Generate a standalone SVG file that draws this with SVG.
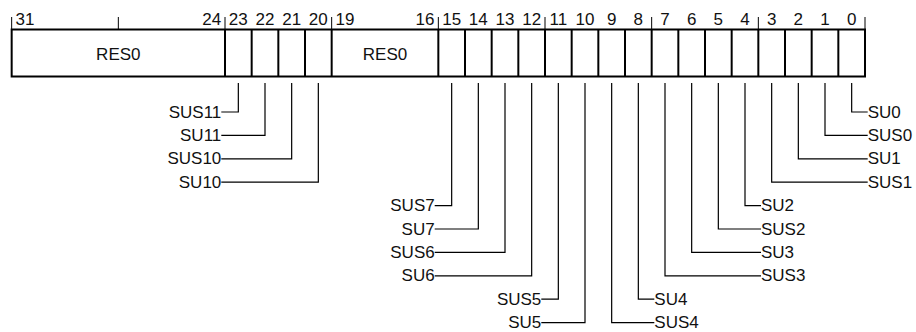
<svg xmlns="http://www.w3.org/2000/svg" width="916" height="332" viewBox="0 0 916 332">
<style>
text{font-family:"Liberation Sans",Arial,sans-serif;font-size:17px;fill:#111}
.n{text-anchor:middle}
.l{text-anchor:end}
.r{text-anchor:start}
.box{fill:#fff;stroke:#000;stroke-width:2}
.div{stroke:#000;stroke-width:2}
.tick{stroke:#000;stroke-width:1}
.c{fill:none;stroke:#000;stroke-width:1.2}
</style>
<rect width="916" height="332" fill="#fff"/>
<g id="register">
<rect class="box" x="11.67" y="29.5" width="853.33" height="47"/>
<g id="field-res0-hi"><text class="n" x="118.33" y="59.5">RES0</text></g>
<g id="field-res0-lo"><text class="n" x="385" y="59.5">RES0</text></g>
<g id="dividers">
<line class="div" x1="225" y1="29.5" x2="225" y2="76.5"/>
<line class="div" x1="251.67" y1="29.5" x2="251.67" y2="76.5"/>
<line class="div" x1="278.33" y1="29.5" x2="278.33" y2="76.5"/>
<line class="div" x1="305" y1="29.5" x2="305" y2="76.5"/>
<line class="div" x1="331.67" y1="29.5" x2="331.67" y2="76.5"/>
<line class="div" x1="438.33" y1="29.5" x2="438.33" y2="76.5"/>
<line class="div" x1="465" y1="29.5" x2="465" y2="76.5"/>
<line class="div" x1="491.67" y1="29.5" x2="491.67" y2="76.5"/>
<line class="div" x1="518.33" y1="29.5" x2="518.33" y2="76.5"/>
<line class="div" x1="545" y1="29.5" x2="545" y2="76.5"/>
<line class="div" x1="571.67" y1="29.5" x2="571.67" y2="76.5"/>
<line class="div" x1="598.33" y1="29.5" x2="598.33" y2="76.5"/>
<line class="div" x1="625" y1="29.5" x2="625" y2="76.5"/>
<line class="div" x1="651.67" y1="29.5" x2="651.67" y2="76.5"/>
<line class="div" x1="678.33" y1="29.5" x2="678.33" y2="76.5"/>
<line class="div" x1="705" y1="29.5" x2="705" y2="76.5"/>
<line class="div" x1="731.67" y1="29.5" x2="731.67" y2="76.5"/>
<line class="div" x1="758.33" y1="29.5" x2="758.33" y2="76.5"/>
<line class="div" x1="785" y1="29.5" x2="785" y2="76.5"/>
<line class="div" x1="811.67" y1="29.5" x2="811.67" y2="76.5"/>
<line class="div" x1="838.33" y1="29.5" x2="838.33" y2="76.5"/>
</g>
<g id="ticks">
<line class="tick" x1="11.67" y1="17" x2="11.67" y2="29.5"/>
<line class="tick" x1="118.33" y1="17" x2="118.33" y2="29.5"/>
<line class="tick" x1="225" y1="17" x2="225" y2="29.5"/>
<line class="tick" x1="331.67" y1="17" x2="331.67" y2="29.5"/>
<line class="tick" x1="438.33" y1="17" x2="438.33" y2="29.5"/>
<line class="tick" x1="545" y1="17" x2="545" y2="29.5"/>
<line class="tick" x1="651.67" y1="17" x2="651.67" y2="29.5"/>
<line class="tick" x1="758.33" y1="17" x2="758.33" y2="29.5"/>
<line class="tick" x1="865" y1="17" x2="865" y2="29.5"/>
</g>
<g id="bitnums">
<text class="n" x="25" y="24.5">31</text>
<text class="n" x="211.67" y="24.5">24</text>
<text class="n" x="238.33" y="24.5">23</text>
<text class="n" x="265" y="24.5">22</text>
<text class="n" x="291.67" y="24.5">21</text>
<text class="n" x="318.33" y="24.5">20</text>
<text class="n" x="345" y="24.5">19</text>
<text class="n" x="425" y="24.5">16</text>
<text class="n" x="451.67" y="24.5">15</text>
<text class="n" x="478.33" y="24.5">14</text>
<text class="n" x="505" y="24.5">13</text>
<text class="n" x="531.67" y="24.5">12</text>
<text class="n" x="558.33" y="24.5">11</text>
<text class="n" x="585" y="24.5">10</text>
<text class="n" x="611.67" y="24.5">9</text>
<text class="n" x="638.33" y="24.5">8</text>
<text class="n" x="665" y="24.5">7</text>
<text class="n" x="691.67" y="24.5">6</text>
<text class="n" x="718.33" y="24.5">5</text>
<text class="n" x="745" y="24.5">4</text>
<text class="n" x="771.67" y="24.5">3</text>
<text class="n" x="798.33" y="24.5">2</text>
<text class="n" x="825" y="24.5">1</text>
<text class="n" x="851.67" y="24.5">0</text>
</g>
</g>
<g id="connectors">
<path class="c" d="M238.33,83V112H221.3"/>
<path class="c" d="M265,83V135.4H221.3"/>
<path class="c" d="M291.67,83V158.8H221.3"/>
<path class="c" d="M318.33,83V182.2H221.3"/>
<path class="c" d="M451.67,83V205.6H434.7"/>
<path class="c" d="M478.33,83V229H434.7"/>
<path class="c" d="M505,83V252.4H434.7"/>
<path class="c" d="M531.67,83V275.8H434.7"/>
<path class="c" d="M558.33,83V299.2H541.3"/>
<path class="c" d="M585,83V322.6H541.3"/>
<path class="c" d="M851.67,83V112H867.7"/>
<path class="c" d="M825,83V135.4H867.7"/>
<path class="c" d="M798.33,83V158.8H867.7"/>
<path class="c" d="M771.67,83V182.2H867.7"/>
<path class="c" d="M745,83V205.6H761"/>
<path class="c" d="M718.33,83V229H761"/>
<path class="c" d="M691.67,83V252.4H761"/>
<path class="c" d="M665,83V275.8H761"/>
<path class="c" d="M638.33,83V299.2H654.3"/>
<path class="c" d="M611.67,83V322.6H654.3"/>
</g>
<g id="label-SUS11"><text class="l" x="221.3" y="117.6">SUS11</text></g>
<g id="label-SU11"><text class="l" x="221.3" y="141">SU11</text></g>
<g id="label-SUS10"><text class="l" x="221.3" y="164.4">SUS10</text></g>
<g id="label-SU10"><text class="l" x="221.3" y="187.8">SU10</text></g>
<g id="label-SUS7"><text class="l" x="434.7" y="211.2">SUS7</text></g>
<g id="label-SU7"><text class="l" x="434.7" y="234.6">SU7</text></g>
<g id="label-SUS6"><text class="l" x="434.7" y="258">SUS6</text></g>
<g id="label-SU6"><text class="l" x="434.7" y="281.4">SU6</text></g>
<g id="label-SUS5"><text class="l" x="541.3" y="304.8">SUS5</text></g>
<g id="label-SU5"><text class="l" x="541.3" y="328.2">SU5</text></g>
<g id="label-SU0"><text class="r" x="867.7" y="117.6">SU0</text></g>
<g id="label-SUS0"><text class="r" x="867.7" y="141">SUS0</text></g>
<g id="label-SU1"><text class="r" x="867.7" y="164.4">SU1</text></g>
<g id="label-SUS1"><text class="r" x="867.7" y="187.8">SUS1</text></g>
<g id="label-SU2"><text class="r" x="761" y="211.2">SU2</text></g>
<g id="label-SUS2"><text class="r" x="761" y="234.6">SUS2</text></g>
<g id="label-SU3"><text class="r" x="761" y="258">SU3</text></g>
<g id="label-SUS3"><text class="r" x="761" y="281.4">SUS3</text></g>
<g id="label-SU4"><text class="r" x="654.3" y="304.8">SU4</text></g>
<g id="label-SUS4"><text class="r" x="654.3" y="328.2">SUS4</text></g>
</svg>
